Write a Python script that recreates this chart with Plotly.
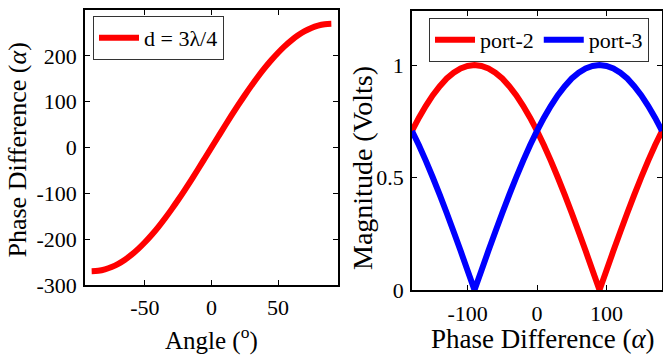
import plotly.graph_objects as go
from plotly.subplots import make_subplots

# ---- data ----
angle_deg = list(range(-90, 95, 5))
phase_diff = [-270.0, -269.0, -265.9, -260.8, -253.7, -244.7, -233.8, -221.2, -206.8,
              -190.9, -173.6, -154.9, -135.0, -114.1, -92.3, -69.9, -46.9, -23.5,
              0.0, 23.5, 46.9, 69.9, 92.3, 114.1, 135.0, 154.9, 173.6, 190.9,
              206.8, 221.2, 233.8, 244.7, 253.7, 260.8, 265.9, 269.0, 270.0]

alpha = list(range(-180, 190, 10))
port2 = [0.707, 0.766, 0.819, 0.866, 0.906, 0.940, 0.966, 0.985, 0.996, 1.000,
         0.996, 0.985, 0.966, 0.940, 0.906, 0.866, 0.819, 0.766, 0.707, 0.643,
         0.574, 0.500, 0.423, 0.342, 0.259, 0.174, 0.087, 0.000, 0.087, 0.174,
         0.259, 0.342, 0.423, 0.500, 0.574, 0.643, 0.707]
port3 = [0.707, 0.643, 0.574, 0.500, 0.423, 0.342, 0.259, 0.174, 0.087, 0.000,
         0.087, 0.174, 0.259, 0.342, 0.423, 0.500, 0.574, 0.643, 0.707, 0.766,
         0.819, 0.866, 0.906, 0.940, 0.966, 0.985, 0.996, 1.000, 0.996, 0.985,
         0.966, 0.940, 0.906, 0.866, 0.819, 0.766, 0.707]

left_xticks = [-50, 0, 50]
left_xticklabels = ["-50", "0", "50"]
left_yticks = [-300, -200, -100, 0, 100, 200, 300]
left_yticklabels = ["-300", "-200", "-100", "0", "100", "200", "300"]
right_xticks = [-100, 0, 100]
right_xticklabels = ["-100", "0", "100"]
right_yticks = [0, 0.5, 1]
right_yticklabels = ["0", "0.5", "1"]

W, H = 663, 356
FONT = "Liberation Serif"
TICKSIZE = 22
LEGSIZE = 22

fig = make_subplots(rows=1, cols=2)

fig.add_trace(go.Scatter(x=angle_deg, y=phase_diff, mode="lines",
                         line=dict(color="#FF0000", width=6, simplify=False, shape="spline"),
                         name="d = 3λ/4", legend="legend"), row=1, col=1)
fig.add_trace(go.Scatter(x=alpha, y=port2, mode="lines",
                         line=dict(color="#FF0000", width=6, simplify=False),
                         name="port-2", legend="legend2"), row=1, col=2)
fig.add_trace(go.Scatter(x=alpha, y=port3, mode="lines",
                         line=dict(color="#0000FF", width=6, simplify=False),
                         name="port-3", legend="legend2"), row=1, col=2)

axcommon = dict(showline=True, linecolor="black", linewidth=1.5, mirror="ticks",
                ticks="inside", ticklen=5, tickwidth=1.2, tickcolor="black",
                showgrid=False, zeroline=False, automargin=False,
                tickfont=dict(family=FONT, size=TICKSIZE, color="black"))

fig.update_xaxes(axcommon)
fig.update_yaxes(axcommon)

fig.update_layout(
    xaxis=dict(domain=[85 / W, 338 / W], range=[-95, 95], tickvals=left_xticks,
               ticktext=left_xticklabels, ticklabelstandoff=2),
    yaxis=dict(domain=[1 - 285 / H, 1 - 10 / H], range=[-300, 300], tickvals=left_yticks,
               ticktext=left_yticklabels, ticklabelstandoff=2),
    xaxis2=dict(domain=[412 / W, 662 / W], range=[-180, 180], tickvals=right_xticks,
                ticktext=right_xticklabels, ticklabelstandoff=3),
    yaxis2=dict(domain=[1 - 290 / H, 1 - 11 / H], range=[0, 1.24], tickvals=right_yticks,
                ticktext=right_yticklabels, ticklabelstandoff=2),
    width=W, height=H,
    margin=dict(l=0, r=0, t=0, b=0),
    paper_bgcolor="white", plot_bgcolor="white",
    font=dict(family=FONT, size=TICKSIZE, color="black"),
    legend=dict(x=93 / W, y=1 - 16 / H, xanchor="left", yanchor="top",
                bgcolor="white", bordercolor="#333", borderwidth=1,
                font=dict(family=FONT, size=LEGSIZE, color="black"),
                itemwidth=40, tracegroupgap=0),
    legend2=dict(x=429 / W, y=1 - 18 / H, xanchor="left", yanchor="top",
                 orientation="h", bgcolor="white", bordercolor="#333", borderwidth=1,
                 font=dict(family=FONT, size=LEGSIZE, color="black"),
                 itemwidth=40),
    showlegend=True,
)

annos = [
    dict(text="Angle (<sup>o</sup>)", x=211.5 / W, y=1 - 338 / H, textangle=0, size=25),
    dict(text="Phase Difference (<i>α</i>)", x=17 / W, y=1 - 150.5 / H, textangle=-90, size=26),
    dict(text="Phase Difference (<i>α</i>)", x=543 / W, y=1 - 338.5 / H, textangle=0, size=27),
    dict(text="Magnitude (Volts)", x=362 / W, y=1 - 168 / H, textangle=-90, size=28),
]
for a in annos:
    sz = a.pop("size")
    fig.add_annotation(xref="paper", yref="paper", showarrow=False,
                       xanchor="center", yanchor="middle",
                       font=dict(family=FONT, size=sz, color="black"), **a)

fig.write_html("out.html", config={"displayModeBar": False},
               post_script="document.body.style.margin='0';document.body.style.padding='0';document.body.style.overflow='hidden';")
